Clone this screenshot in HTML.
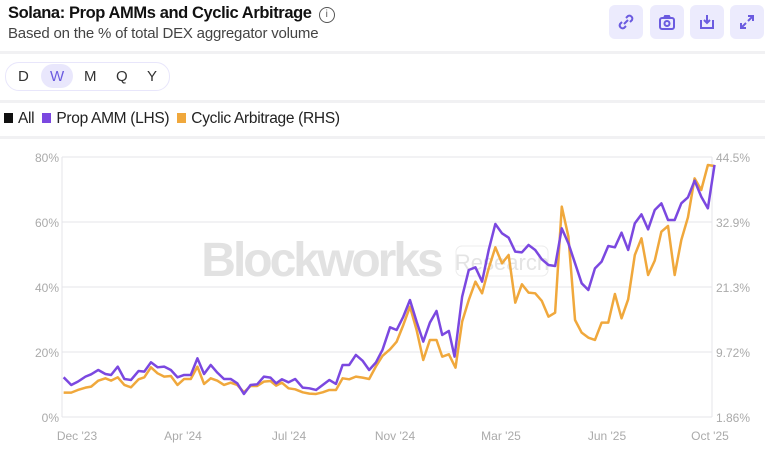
<!DOCTYPE html>
<html><head><meta charset="utf-8"><style>
body{margin:0;width:765px;height:456px;background:#fff;font-family:"Liberation Sans",sans-serif;position:relative;overflow:hidden}
.t{position:absolute;left:8px;top:4px;font-size:16.5px;font-weight:bold;color:#111;letter-spacing:-0.4px}
.s{position:absolute;left:8px;top:25px;font-size:15px;color:#444;letter-spacing:-0.2px}
.info{display:inline-block;width:14px;height:14px;border:1.3px solid #555;border-radius:50%;font-size:10px;text-align:center;line-height:14px;font-weight:normal;margin-left:7px;vertical-align:1px;color:#555}
.b{position:absolute;top:5px;width:34px;height:34px;background:#ecebfd;border-radius:6px}
.b svg{position:absolute;left:7px;top:7px}
.hr{position:absolute;left:0;width:765px;height:3px;background:#f1f1f3}
.pill{position:absolute;left:5px;top:62px;width:163px;height:27px;border:1px solid #e8e6fb;border-radius:14px}
.p{position:absolute;top:68px;font-size:15px;color:#333}
.lg{position:absolute;top:110px;font-size:15.5px;color:#222;letter-spacing:-0.3px}
.sq{display:inline-block;width:9px;height:10px;margin-right:5px;vertical-align:0px}
</style></head><body>
<div class="t">Solana: Prop AMMs and Cyclic Arbitrage<span class="info">i</span></div>
<div class="s">Based on the % of total DEX aggregator volume</div>
<div class="b" style="left:609px"><svg width="20" height="20" fill="none" stroke="#6b5be0" stroke-width="2"><path d="M8 12l4-4M6 10l-2 2a3 3 0 004 4l2-2M14 10l2-2a3 3 0 00-4-4l-2 2"/></svg></div>
<div class="b" style="left:650px"><svg width="20" height="20" fill="none" stroke="#6b5be0" stroke-width="2"><rect x="3" y="6" width="14" height="11" rx="2"/><path d="M7 6l1-2h4l1 2"/><circle cx="10" cy="11.5" r="2.5"/></svg></div>
<div class="b" style="left:690px"><svg width="20" height="20" fill="none" stroke="#6b5be0" stroke-width="2"><path d="M4 8v8h12V8"/><path d="M10 3v8M7 8l3 3 3-3"/></svg></div>
<div class="b" style="left:730px"><svg width="20" height="20" fill="none" stroke="#6b5be0" stroke-width="2"><path d="M4 16l5-5M11 9l5-5M4 11v5h5M11 4h5v5"/></svg></div>
<div class="hr" style="top:51px"></div>
<div class="pill"></div>
<div style="position:absolute;left:41px;top:64px;width:32px;height:24px;border-radius:12px;background:#e9e7fc"></div>
<div class="p" style="left:18px">D</div><div class="p" style="left:50px;color:#6b5be0">W</div><div class="p" style="left:84px">M</div><div class="p" style="left:116px">Q</div><div class="p" style="left:147px">Y</div>
<div class="hr" style="top:100px"></div>
<div class="lg" style="left:4px"><span class="sq" style="background:#111"></span>All <span class="sq" style="background:#7b48e0;margin-left:4px"></span>Prop AMM (LHS) <span class="sq" style="background:#f0a83c;margin-left:4px"></span>Cyclic Arbitrage (RHS)</div>
<div class="hr" style="top:136px"></div>
<svg width="765" height="456" style="position:absolute;left:0;top:0">
<g stroke="#e4e4ea" stroke-width="1">
<line x1="62" y1="157" x2="712" y2="157"/><line x1="62" y1="222" x2="712" y2="222"/><line x1="62" y1="287" x2="712" y2="287"/><line x1="62" y1="352" x2="712" y2="352"/><line x1="62" y1="417" x2="712" y2="417"/>
<line x1="62" y1="157" x2="62" y2="417"/><line x1="712" y1="157" x2="712" y2="417"/>
</g>
<text x="321" y="276" font-size="48" font-weight="bold" fill="#e2e2e2" text-anchor="middle" font-family="Liberation Sans" letter-spacing="-3">Blockworks</text>
<rect x="456" y="246" width="92" height="30" rx="6" fill="none" stroke="#ececec"/>
<text x="502" y="270" font-size="22" fill="#e4e4e4" text-anchor="middle" font-family="Liberation Sans">Research</text>
<g font-size="12" fill="#aaa" font-family="Liberation Sans">
<text x="59" y="162" text-anchor="end">80%</text><text x="59" y="227" text-anchor="end">60%</text><text x="59" y="292" text-anchor="end">40%</text><text x="59" y="357" text-anchor="end">20%</text><text x="59" y="422" text-anchor="end">0%</text>
<text x="716" y="162">44.5%</text><text x="716" y="227">32.9%</text><text x="716" y="292">21.3%</text><text x="716" y="357">9.72%</text><text x="716" y="422">1.86%</text>
<text x="77" y="440" text-anchor="middle">Dec '23</text><text x="183" y="440" text-anchor="middle">Apr '24</text><text x="289" y="440" text-anchor="middle">Jul '24</text><text x="395" y="440" text-anchor="middle">Nov '24</text><text x="501" y="440" text-anchor="middle">Mar '25</text><text x="607" y="440" text-anchor="middle">Jun '25</text><text x="710" y="440" text-anchor="middle">Oct '25</text>
</g>
<g transform="matrix(0.4744,0,0,0.3333,20,140)" fill="none" stroke-width="2.5" stroke-linejoin="round">
<polyline vector-effect="non-scaling-stroke" stroke="#f0a83c" points="92,758 108,758 122,750 138,743 150,740 165,722 180,715 192,722 206,712 220,735 234,742 250,718 262,712 276,682 290,700 304,710 318,708 332,735 346,717 360,717 374,680 388,732 402,715 416,722 430,735 444,728 458,735 472,757 486,738 500,738 514,725 528,723 540,737 552,728 566,745 580,748 596,757 610,761 624,762 638,757 652,750 666,750 680,715 694,718 708,710 722,713 736,717 750,680 764,648 780,628 794,605 808,555 822,500 836,570 850,660 864,600 878,600 890,650 904,643 918,683 932,545 946,480 960,425 974,460 988,385 1002,322 1016,370 1030,345 1044,488 1058,433 1072,458 1086,460 1100,483 1114,530 1128,518 1142,200 1156,290 1170,540 1184,578 1198,593 1212,600 1226,548 1240,548 1254,462 1268,535 1282,478 1296,345 1310,295 1324,405 1338,362 1352,275 1366,258 1380,405 1394,300 1408,232 1422,115 1436,150 1450,75 1464,78"/>
<polyline vector-effect="non-scaling-stroke" stroke="#7b48e0" points="92,712 108,735 122,725 138,710 150,703 165,690 180,702 192,705 206,680 220,717 234,720 250,693 262,695 276,667 290,682 304,680 318,690 332,712 346,705 360,705 374,655 388,702 402,675 416,698 430,717 444,717 458,730 472,762 486,735 500,733 514,710 528,713 540,730 552,718 566,727 580,717 596,743 610,745 624,750 638,735 652,720 666,732 680,675 694,675 708,645 722,662 736,690 750,668 764,630 780,562 794,570 808,530 822,480 836,545 850,605 864,548 878,513 890,585 904,573 916,650 932,470 946,390 960,382 974,425 988,330 1002,252 1016,280 1030,293 1044,335 1058,337 1072,315 1086,330 1100,358 1114,375 1128,378 1142,265 1156,310 1170,370 1184,430 1198,450 1212,385 1226,365 1240,318 1254,322 1268,278 1282,330 1296,250 1310,223 1324,268 1338,210 1352,190 1366,240 1380,240 1394,190 1408,172 1422,122 1436,170 1450,205 1464,75"/>
</g>
</svg>
</body></html>
